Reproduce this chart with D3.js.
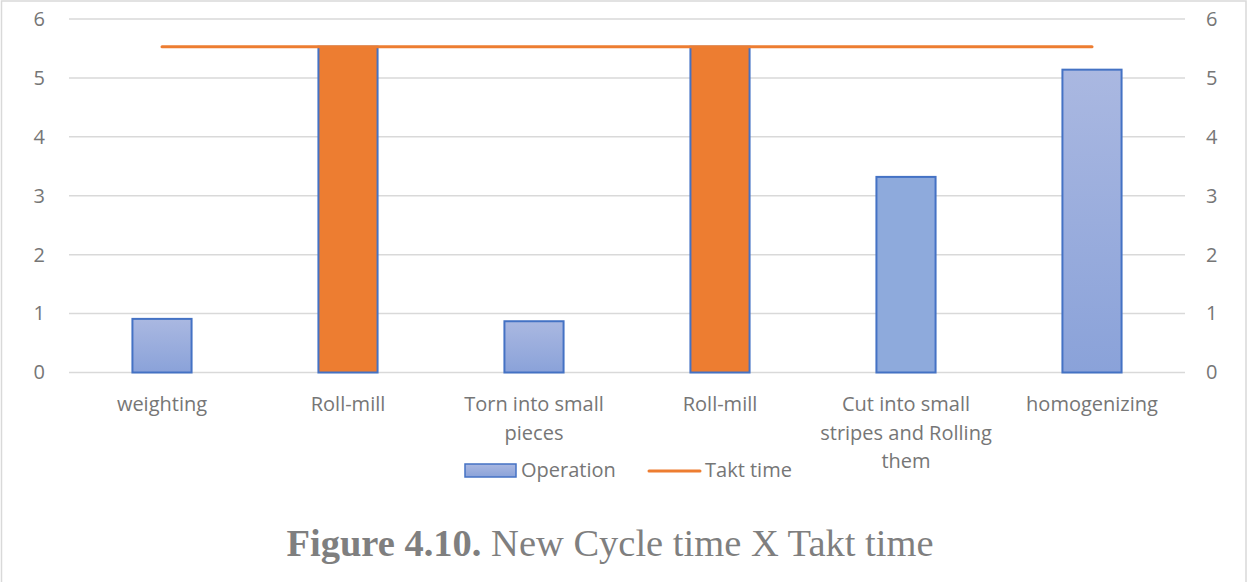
<!DOCTYPE html>
<html>
<head>
<meta charset="utf-8">
<script src="https://cdn.jsdelivr.net/npm/d3@7"></script>
<style>
    html, body { margin: 0; padding: 0; background: #fff; }
    svg { display: block; }
</style>
</head>
<body>
<svg id="chart"></svg>
<script>
// chart data
const categories = ['weighting', 'Roll-mill', 'Torn into small pieces', 'Roll-mill',
    'Cut into small stripes and Rolling them', 'homogenizing'];
const labelLines = [['weighting'], ['Roll-mill'], ['Torn into small', 'pieces'], ['Roll-mill'],
    ['Cut into small', 'stripes and Rolling', 'them'], ['homogenizing']];
const operation = [0.91, 5.53, 0.87, 5.53, 3.32, 5.14];
const bottleneck = [false, true, false, true, false, false];
const taktTime = [5.53, 5.53, 5.53, 5.53, 5.53, 5.53];
const yTicks = [0, 1, 2, 3, 4, 5, 6];
const seriesNames = ['Operation', 'Takt time'];
const caption = ['Figure 4.10.', ' New Cycle time X Takt time'];

(function () {
    const width = 1247;
    const height = 582;
    const plot = { left: 69, right: 1185, top: 19, bottom: 372.5 };
    const font = '"Open Sans", "Liberation Sans", sans-serif';
    const fontSize = 20;
    const textColor = '#767676';
    const blue = '#4472c4';
    const orange = '#ed7d31';

    const svg = d3.select('#chart')
        .attr('width', width)
        .attr('height', height);

    const defs = svg.append('defs');
    const grad = defs.append('linearGradient')
        .attr('id', 'opGrad')
        .attr('x1', 0).attr('y1', 0).attr('x2', 0).attr('y2', 1);
    grad.append('stop').attr('offset', '0%').attr('stop-color', '#aab8e1');
    grad.append('stop').attr('offset', '100%').attr('stop-color', '#8aa2d9');

    // outer frame
    svg.append('rect')
        .attr('x', 1.5).attr('y', 1)
        .attr('width', width - 2.5).attr('height', height + 10)
        .attr('fill', 'none')
        .attr('stroke', '#d9d9d9')
        .attr('stroke-width', 1.5);

    const x = d3.scaleBand()
        .domain(d3.range(categories.length))
        .range([plot.left, plot.right]);

    const y = d3.scaleLinear()
        .domain([0, 6])
        .range([plot.bottom, plot.top]);

    // gridlines
    svg.append('g')
        .selectAll('line')
        .data(yTicks)
        .join('line')
        .attr('x1', plot.left)
        .attr('x2', plot.right)
        .attr('y1', d => y(d))
        .attr('y2', d => y(d))
        .attr('stroke', '#d9d9d9')
        .attr('stroke-width', 1.5);

    // left and right axes
    const fmt = d3.format('d');
    const leftAxis = d3.axisLeft(y).tickValues(yTicks).tickFormat(fmt).tickSize(0).tickPadding(24);
    const rightAxis = d3.axisRight(y).tickValues(yTicks).tickFormat(fmt).tickSize(0).tickPadding(21);

    [[leftAxis, plot.left], [rightAxis, plot.right]].forEach(([ax, tx]) => {
        const g = svg.append('g')
            .attr('transform', `translate(${tx},0)`)
            .call(ax);
        g.select('.domain').remove();
        g.selectAll('text')
            .attr('font-family', font)
            .attr('font-size', fontSize)
            .attr('fill', textColor);
    });

    // bars
    const barW = x.bandwidth() * 0.318;
    svg.append('g')
        .selectAll('rect')
        .data(operation)
        .join('rect')
        .attr('x', (d, i) => x(i) + (x.bandwidth() - barW) / 2)
        .attr('y', d => y(d))
        .attr('width', barW)
        .attr('height', d => y(0) - y(d))
        .attr('fill', (d, i) => bottleneck[i] ? orange : (i === 4 ? '#8eaadc' : 'url(#opGrad)'))
        .attr('stroke', blue)
        .attr('stroke-width', 2);

    // takt line
    const line = d3.line()
        .x((d, i) => x(i) + x.bandwidth() / 2)
        .y(d => y(d));

    svg.append('path')
        .datum(taktTime)
        .attr('d', line)
        .attr('fill', 'none')
        .attr('stroke', orange)
        .attr('stroke-width', 3)
        .attr('stroke-linecap', 'round');

    // category labels
    const labels = svg.append('g')
        .attr('font-family', font)
        .attr('font-size', fontSize)
        .attr('fill', textColor)
        .attr('text-anchor', 'middle');

    labelLines.forEach((lines, i) => {
        const t = labels.append('text')
            .attr('x', x(i) + x.bandwidth() / 2)
            .attr('y', 411);
        lines.forEach((s, j) => {
            t.append('tspan')
                .attr('x', x(i) + x.bandwidth() / 2)
                .attr('dy', j === 0 ? 0 : 28.5)
                .text(s);
        });
    });

    // legend
    const legend = svg.append('g')
        .attr('font-family', font)
        .attr('font-size', fontSize)
        .attr('fill', textColor);

    legend.append('rect')
        .attr('x', 465).attr('y', 464)
        .attr('width', 51).attr('height', 13)
        .attr('fill', 'url(#opGrad)')
        .attr('stroke', blue)
        .attr('stroke-width', 1.5);
    legend.append('text')
        .attr('x', 521).attr('y', 477)
        .text(seriesNames[0]);

    legend.append('line')
        .attr('x1', 649).attr('x2', 700)
        .attr('y1', 471).attr('y2', 471)
        .attr('stroke', orange)
        .attr('stroke-width', 3)
        .attr('stroke-linecap', 'round');
    legend.append('text')
        .attr('x', 705).attr('y', 477)
        .text(seriesNames[1]);

    // caption
    const cap = svg.append('text')
        .attr('x', 610)
        .attr('y', 556)
        .attr('text-anchor', 'middle')
        .attr('font-family', '"Liberation Serif", "Times New Roman", serif')
        .attr('font-size', 38.5)
        .attr('fill', '#7f7f7f');
    cap.append('tspan').attr('font-weight', 'bold').text(caption[0]);
    cap.append('tspan').text(caption[1]);
})();
</script>
</body>
</html>
